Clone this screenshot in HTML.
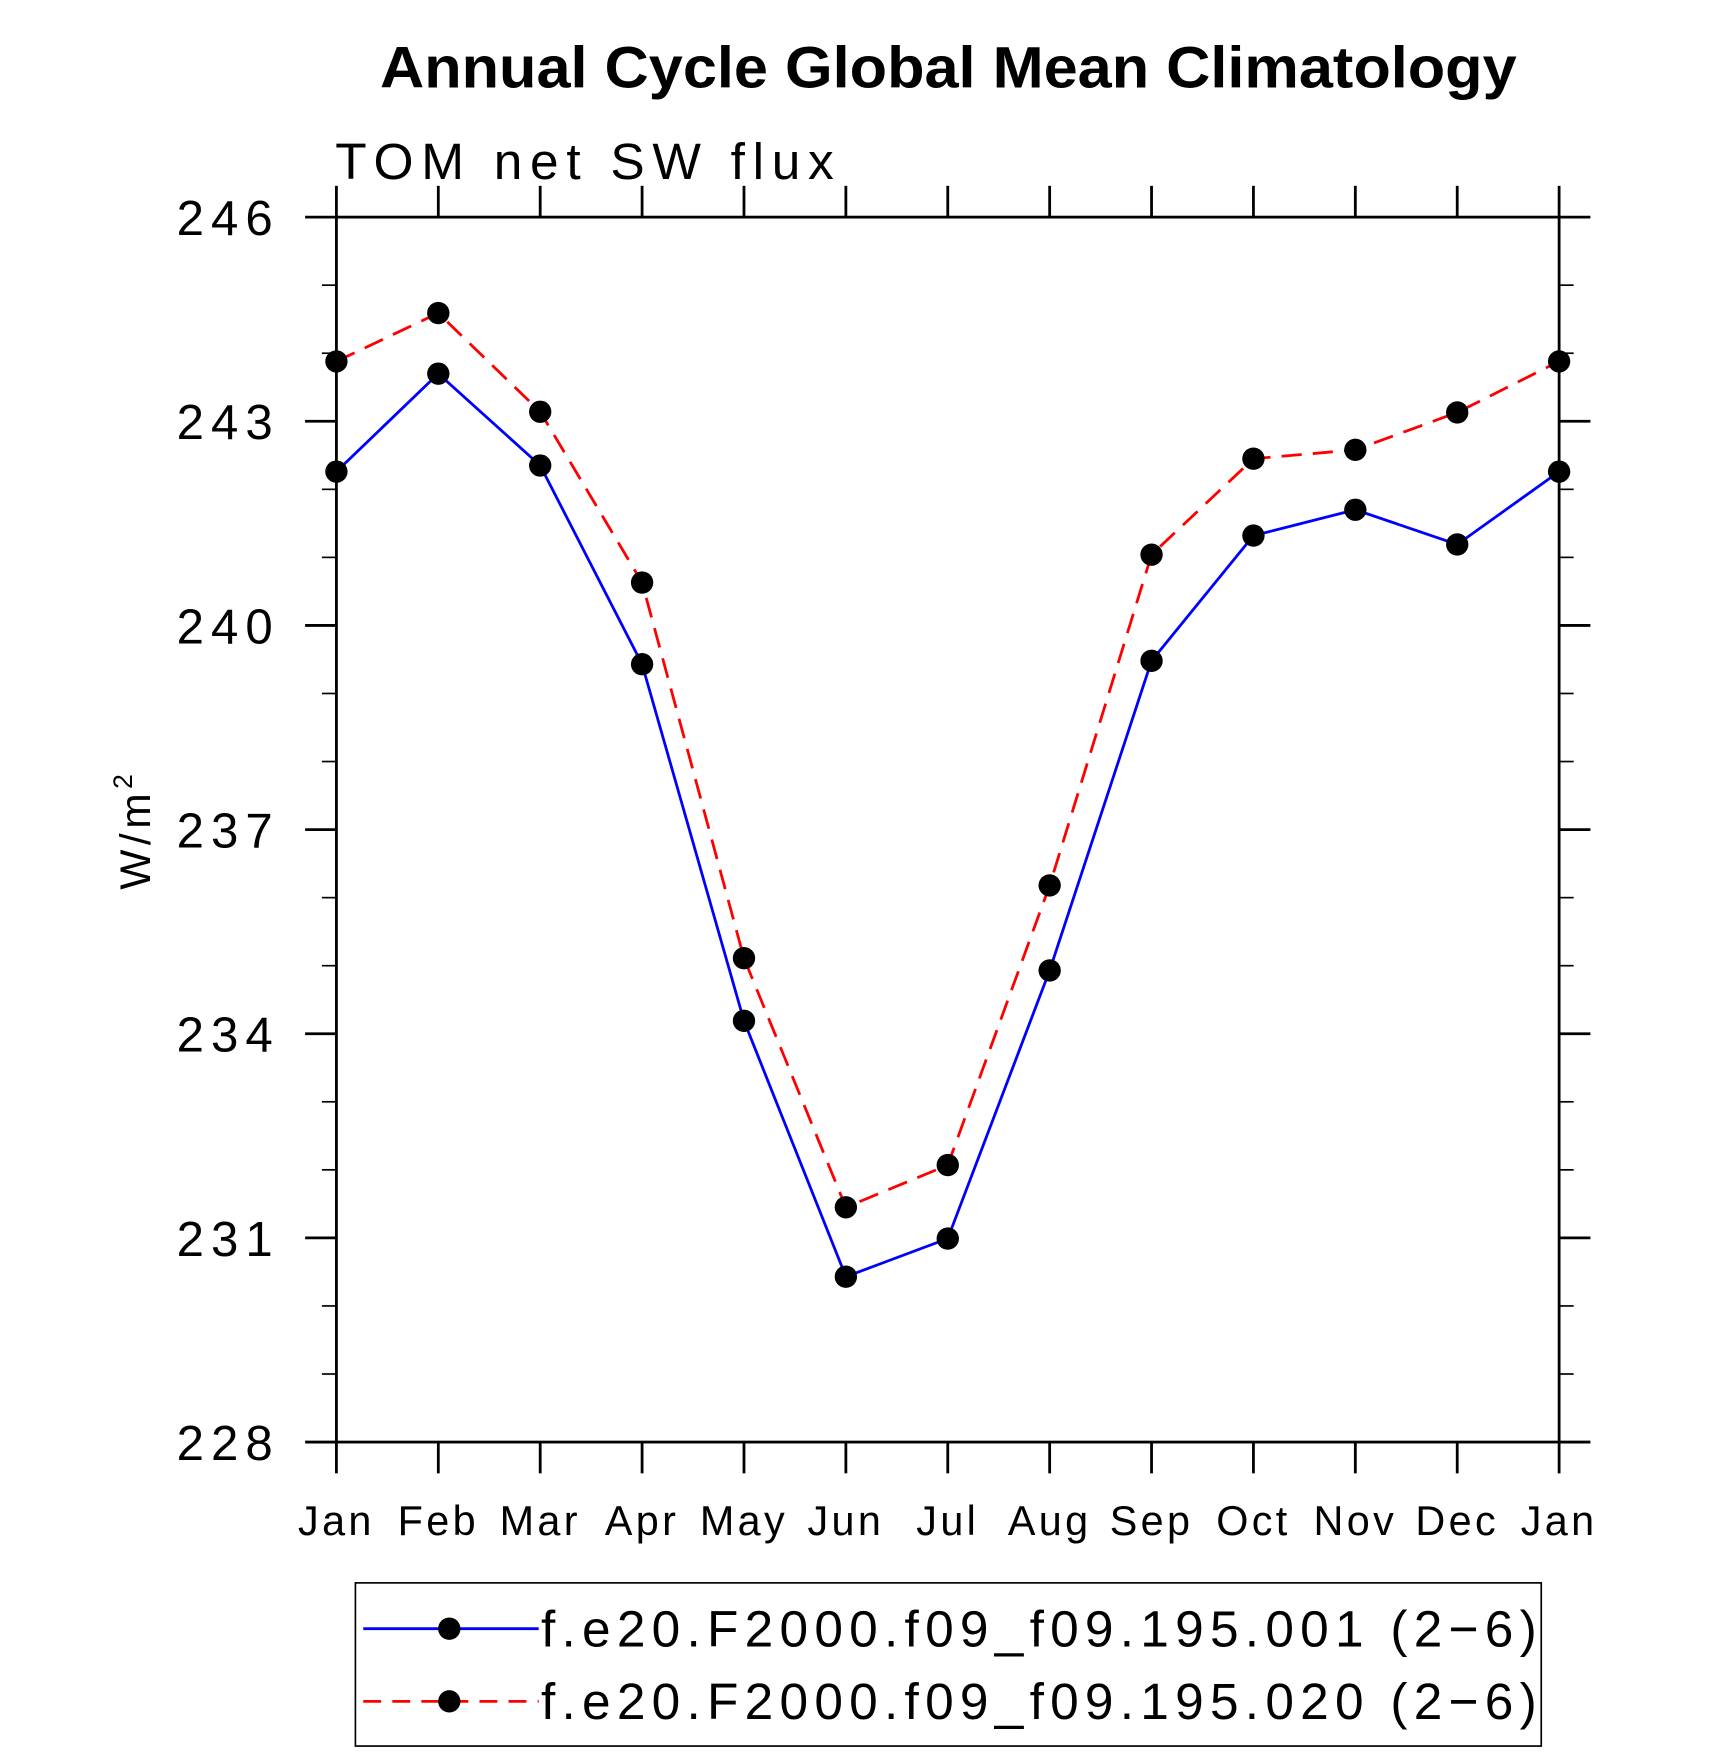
<!DOCTYPE html>
<html><head><meta charset="utf-8"><style>
html,body{margin:0;padding:0;background:#fff;}
svg{display:block;}
text{font-family:"Liberation Sans","DejaVu Sans",sans-serif;}
</style></head><body>
<svg id="chart" width="1710" height="1762" viewBox="0 0 1530 1576" xmlns="http://www.w3.org/2000/svg">
<text x="340" y="78" textLength="1017" lengthAdjust="spacingAndGlyphs" font-size="52" font-weight="bold">Annual Cycle Global Mean Climatology</text>
<text x="300" y="160" textLength="446" lengthAdjust="spacing" font-size="46">TOM  net  SW  flux</text>
<text transform="translate(134,742) rotate(-90)" text-anchor="middle" font-size="38" letter-spacing="4">W/m<tspan font-size="24" dy="-16">2</tspan></text>
<g id="axes"></g>
<g id="series"></g>
<g id="legend">
<rect x="318" y="1416" width="1061" height="146" fill="none" stroke="#000" stroke-width="1.5"/>
<g>
<line x1="325" y1="1457" x2="482" y2="1457" stroke="#0000ff" stroke-width="2.5"/>
<circle cx="402" cy="1457" r="10"/>
<text x="484" y="1473" textLength="891" lengthAdjust="spacing" font-size="46">f.e20.F2000.f09_f09.195.001 (2−6)</text>
</g>
<g>
<line x1="325" y1="1522" x2="482" y2="1522" stroke="#ff0000" stroke-width="2.5" stroke-dasharray="16,10"/>
<circle cx="402" cy="1522" r="10"/>
<text x="484" y="1538" textLength="891" lengthAdjust="spacing" font-size="46">f.e20.F2000.f09_f09.195.020 (2−6)</text>
</g>
</g>
</svg>
<script>
const months = ["Jan","Feb","Mar","Apr","May","Jun","Jul","Aug","Sep","Oct","Nov","Dec","Jan"];
const series001 = [242.26,243.70,242.35,239.43,234.19,230.43,230.99,234.93,239.48,241.32,241.70,241.19,242.26];
const series020 = [243.88,244.59,243.14,240.63,235.11,231.45,232.07,236.18,241.04,242.45,242.58,243.13,243.88];
const yTicks = [228,231,234,237,240,243,246];
const yMin = 228, yMax = 246;
const L=301,R=1395,T=194,B=1290;
const NS="http://www.w3.org/2000/svg";
function xs(i){return L+(R-L)*i/(months.length-1);}
function ys(v){return B-(B-T)*(v-yMin)/(yMax-yMin);}
function mk(tag,attrs,parent){const e=document.createElementNS(NS,tag);for(const k in attrs)e.setAttribute(k,attrs[k]);parent.appendChild(e);return e;}
const axes=document.getElementById('axes');
const frame=mk('rect',{x:L,y:T,width:R-L,height:B-T,fill:'none',stroke:'#000','stroke-width':2.5},axes);


for(let i=0;i<months.length;i++){
  const x=xs(i);
  mk('line',{x1:x,y1:B,x2:x,y2:B+28,stroke:'#000','stroke-width':2.5},axes);
  mk('line',{x1:x,y1:T,x2:x,y2:T-28,stroke:'#000','stroke-width':2.5},axes);
  const t=mk('text',{x:x,y:1373,'text-anchor':'middle','font-size':37,'letter-spacing':3},axes);
  t.textContent=months[i];
  
  
}
for(let v=yMin;v<=yMax;v++){
  const y=ys(v);const major=yTicks.includes(v);const len=major?28:13;
  mk('line',{x1:L,y1:y,x2:L-len,y2:y,stroke:'#000','stroke-width':major?2.5:1.5},axes);
  mk('line',{x1:R,y1:y,x2:R+len,y2:y,stroke:'#000','stroke-width':major?2.5:1.5},axes);
}
yTicks.forEach(v=>{
  const t=mk('text',{x:158,y:ys(v)+16,textLength:86,lengthAdjust:'spacing','font-size':44},axes);
  t.textContent=v;
  
  
});
const sg=document.getElementById('series');
function draw(vals,color,dash,name){
  const pts=vals.map((v,i)=>xs(i)+','+ys(v)).join(' ');
  const pl=mk('polyline',{points:pts,fill:'none',stroke:color,'stroke-width':2.5,'stroke-dasharray':dash},sg);
  
  
  vals.forEach((v,i)=>{
    const c=mk('circle',{cx:xs(i),cy:ys(v),r:10,fill:'#000'},sg);
    
    
  });
}
draw(series001,'#0000ff','none','series-001');
draw(series020,'#ff0000','18,10','series-020');
</script>
</body></html>
